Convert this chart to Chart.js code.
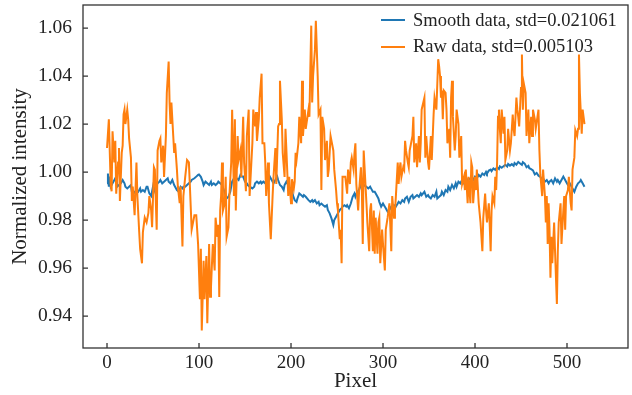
<!DOCTYPE html>
<html>
<head>
<meta charset="utf-8">
<script src="https://cdn.jsdelivr.net/npm/chart.js@4.4.1/dist/chart.umd.min.js"></script>
<style>
  body { margin: 0; background: #fff; }
  #wrap { position: relative; width: 632px; height: 395px; }
  #legend { position: absolute; left: 381px; top: 7px; font-family: 'Liberation Serif', 'Times New Roman', serif; font-size: 18.5px; color: #222; }
  #legend .row { display: flex; align-items: center; height: 26.5px; white-space: nowrap; }
  #legend .swatch { width: 24px; height: 2px; margin-right: 8px; }
</style>
</head>
<body>
<div id="wrap">
  <canvas id="chart" width="632" height="395"></canvas>
  <div id="legend"></div>
</div>
<script>
// Raw data: [pixel, normalized intensity]
const rawData = [
  [0,1.010],[2,1.022],[4,0.995],[5,0.992],[6,1.017],[8,1.004],[9,1.013],[10,0.991],[12,1.004],[13,1.010],
  [14,0.988],[16,1.008],[17,1.011],[18,1.024],[19,1.026],[20,1.020],[22,1.026],[23,1.022],[24,1.014],[26,1.006],
  [27,0.988],[28,0.994],[30,0.982],[32,1.004],[33,0.990],[35,0.975],[36,0.968],[38,0.962],[39,0.975],[41,0.981],
  [43,0.979],[45,0.983],[46,0.990],[48,0.984],[49,0.977],[51,1.002],[52,1.001],[54,0.976],[55,1.009],[57,1.013],
  [58,1.014],[59,1.004],[61,1.011],[62,0.998],[64,1.015],[65,1.033],[67,1.046],[68,1.029],[69,1.020],[70,1.029],
  [72,1.015],[73,1.008],[74,1.012],[76,1.001],[77,0.994],[79,0.987],[80,0.994],[82,0.969],[83,0.990],[85,0.998],
  [87,1.005],[89,1.004],[90,0.995],[92,0.976],[95,0.982],[97,0.982],[99,0.970],[101,0.947],[102,0.968],[103,0.934],
  [105,0.963],[106,0.947],[108,0.965],[109,0.937],[111,0.970],[112,0.948],[113,0.952],[115,0.970],[117,0.959],[118,0.981],
  [120,0.973],[121,0.978],[122,0.948],[123,0.984],[124,0.990],[125,1.004],[126,0.984],[128,0.987],[129,0.998],[130,0.973],
  [132,0.977],[133,0.990],[135,1.004],[136,1.026],[138,0.990],[139,1.022],[140,0.984],[142,1.015],[143,1.005],[145,1.009],
  [146,0.998],[148,1.023],[149,1.004],[151,0.992],[152,1.015],[154,1.026],[155,0.990],[158,1.012],[159,1.026],[161,1.019],
  [162,1.025],[163,1.013],[165,1.022],[166,1.031],[168,1.041],[169,1.012],[171,1.012],[172,1.004],[173,0.990],[175,1.004],
  [176,0.987],[178,0.972],[180,0.990],[181,0.998],[183,1.010],[184,0.995],[186,1.019],[187,1.020],[188,1.038],[190,1.022],
  [191,1.008],[193,0.998],[194,1.018],[195,1.009],[197,0.990],[198,0.998],[200,0.987],[201,0.997],[203,0.993],[204,0.996],
  [205,1.008],[206,1.005],[208,1.012],[209,1.023],[211,1.012],[212,1.038],[213,1.015],[215,1.026],[216,1.018],[219,1.026],
  [220,1.023],[221,1.043],[222,1.061],[223,1.029],[224,1.040],[226,1.051],[227,1.063],[229,1.040],[230,1.024],[232,1.026],
  [233,0.9925],[234,1.023],[236,1.018],[237,1.005],[239,1.013],[240,0.998],[241,1.001],[243,1.015],[244,1.013],[246,1.009],
  [247,1.001],[249,0.9925],[250,0.987],[251,0.984],[253,0.972],[254,0.976],[255,0.962],[256,0.998],[258,0.998],[259,0.998],
  [261,0.991],[262,1.001],[264,0.995],[265,1.004],[266,1.006],[268,1.001],[269,1.008],[270,1.012],[271,0.995],[273,0.984],
  [274,0.992],[276,1.002],[277,0.993],[278,0.970],[279,1.009],[282,0.987],[283,0.979],[285,0.967],[286,0.984],[287,0.987],
  [289,0.967],[290,0.984],[291,0.966],[292,0.981],[294,0.966],[295,0.979],[296,0.981],[297,0.962],[299,0.976],[300,0.970],
  [302,0.959],[303,0.976],[305,0.981],[306,0.984],[307,0.987],[309,0.967],[310,0.990],[312,0.981],[313,0.984],[314,0.990],
  [316,1.004],[317,0.995],[318,1.001],[319,1.004],[320,0.998],[322,1.002],[323,1.001],[324,1.013],[325,1.009],[327,1.004],
  [328,1.002],[329,1.009],[332,1.015],[333,1.023],[334,1.004],[336,1.012],[337,1.002],[339,1.015],[340,1.004],[341,1.012],
  [342,1.026],[345,1.031],[346,1.006],[347,1.015],[349,1.004],[350,1.001],[352,1.015],[353,1.005],[355,1.024],[356,1.031],
  [358,1.026],[360,1.047],[361,1.044],[362,1.040],[363,1.031],[364,1.034],[365,1.022],[366,1.034],[368,1.033],[369,1.026],
  [370,1.012],[372,1.018],[373,1.006],[374,1.031],[375,1.038],[376,1.023],[378,1.009],[379,1.015],[380,1.026],[382,1.020],
  [383,1.006],[385,1.015],[386,0.995],[388,0.998],[389,0.9925],[390,1.001],[392,0.987],[393,0.998],[395,0.987],[396,1.004],
  [397,1.002],[398,0.987],[400,0.998],[401,0.9925],[402,1.001],[404,0.987],[406,0.979],[408,0.967],[409,0.981],[411,0.991],
  [412,0.984],[413,0.979],[415,0.987],[416,0.978],[417,0.967],[418,0.984],[419,0.990],[421,0.987],[422,0.998],[423,0.9925],
  [424,1.004],[425,1.023],[426,1.026],[427,1.018],[428,1.012],[429,1.026],[431,1.016],[432,1.023],[433,1.005],[435,1.009],
  [436,1.018],[438,1.009],[439,1.012],[441,1.024],[442,1.018],[443,1.015],[445,1.031],[446,1.026],[447,1.023],[448,1.019],
  [450,1.035],[451,1.049],[452,1.026],[453,1.037],[455,1.033],[456,1.015],[458,1.026],[459,1.012],[461,1.023],[462,1.015],
  [463,1.026],[465,1.022],[466,1.018],[469,1.026],[470,1.009],[471,0.999],[473,0.990],[474,1.001],[476,0.990],[477,0.979],
  [478,0.990],[479,0.970],[480,0.987],[481,0.976],[482,0.956],[483,0.973],[484,0.962],[486,0.979],[487,0.967],[489,0.945],
  [490,0.967],[491,0.979],[493,0.987],[494,0.970],[496,0.984],[497,0.990],[498,0.976],[499,0.990],[501,0.9925],[502,0.998],
  [504,0.987],[505,0.984],[506,1.001],[508,1.006],[509,1.0175],[511,1.015],[512,1.018],[513,1.049],[514,1.033],[516,1.016],
  [517,1.026],[519,1.020]
];

// Smoothed data: [pixel, normalized intensity]
const smoothData = [
  [0,0.9953],[1,0.9994],[2,0.9939],[3,0.9981],[4,0.9939],[6,0.9953],[8,0.9967],[10,0.9981],[11,0.9939],[13,0.9946],
  [15,0.9953],[17,0.9967],[19,0.9953],[20,0.9939],[22,0.9932],[24,0.9939],[26,0.9946],[27,0.9918],[29,0.9911],[32,0.9925],
  [34,0.9918],[36,0.9932],[37,0.9918],[39,0.9925],[41,0.9918],[43,0.9939],[44,0.9939],[46,0.9911],[48,0.9900],[50,0.9939],
  [51,0.9918],[53,0.9939],[55,0.9953],[57,0.9960],[58,0.9967],[60,0.9953],[62,0.9960],[64,0.9967],[66,0.9974],[67,0.9960],
  [69,0.9953],[71,0.9967],[73,0.9946],[74,0.9939],[76,0.9925],[78,0.9918],[80,0.9939],[82,0.9932],[83,0.9939],[85,0.9939],
  [87,0.9946],[89,0.9953],[91,0.9960],[92,0.9967],[95,0.9974],[97,0.9981],[99,0.9988],[100,0.9990],[102,0.9980],[104,0.9960],
  [105,0.9946],[107,0.9960],[109,0.9953],[111,0.9946],[113,0.9960],[114,0.9946],[116,0.9953],[118,0.9946],[120,0.9953],[121,0.9960],
  [123,0.9953],[125,0.9946],[127,0.9925],[129,0.9904],[130,0.9890],[132,0.9897],[134,0.9918],[136,0.9960],[138,0.9974],[139,0.9960],
  [141,0.9974],[143,0.9967],[145,0.9988],[146,0.9981],[148,0.9981],[150,0.9960],[152,0.9953],[153,0.9946],[155,0.9939],[158,0.9932],
  [160,0.9939],[161,0.9953],[163,0.9960],[165,0.9953],[167,0.9960],[168,0.9953],[170,0.9960],[172,0.9953],[174,0.9974],[176,0.9967],
  [177,0.9981],[179,0.9967],[181,0.9953],[183,0.9967],[185,0.9981],[186,0.9967],[188,0.9946],[190,0.9939],[192,0.9925],[193,0.9946],
  [195,0.9960],[197,0.9946],[199,0.9918],[201,0.9925],[202,0.9904],[204,0.9883],[206,0.9876],[207,0.9890],[209,0.9911],[211,0.9904],
  [213,0.9897],[214,0.9904],[216,0.9897],[219,0.9883],[221,0.9876],[223,0.9883],[224,0.9876],[226,0.9883],[228,0.9869],[230,0.9876],
  [231,0.9862],[233,0.9869],[235,0.9862],[237,0.9856],[239,0.9862],[240,0.9842],[242,0.9828],[244,0.9807],[246,0.9780],[247,0.9800],
  [249,0.9814],[251,0.9828],[253,0.9842],[255,0.9849],[256,0.9856],[258,0.9862],[260,0.9856],[261,0.9862],[263,0.9849],[265,0.9869],
  [267,0.9897],[269,0.9911],[270,0.9897],[272,0.9918],[274,0.9925],[276,0.9953],[277,0.9932],[279,0.9946],[282,0.9939],[284,0.9932],
  [286,0.9939],[287,0.9932],[289,0.9918],[291,0.9918],[293,0.9904],[295,0.9890],[296,0.9876],[298,0.9856],[300,0.9869],[302,0.9856],
  [303,0.9849],[305,0.9835],[307,0.9842],[309,0.9856],[310,0.9856],[312,0.9862],[314,0.9856],[316,0.9869],[317,0.9876],[319,0.9869],
  [321,0.9883],[323,0.9876],[324,0.9890],[326,0.9897],[328,0.9876],[330,0.9897],[332,0.9904],[333,0.9890],[335,0.9897],[337,0.9904],
  [339,0.9897],[341,0.9911],[342,0.9904],[345,0.9918],[347,0.9897],[349,0.9904],[350,0.9897],[352,0.9890],[354,0.9904],[356,0.9897],
  [358,0.9918],[359,0.9890],[361,0.9897],[363,0.9904],[364,0.9918],[366,0.9904],[368,0.9925],[370,0.9918],[371,0.9939],[373,0.9925],
  [375,0.9946],[377,0.9932],[379,0.9953],[380,0.9939],[382,0.9960],[384,0.9953],[386,0.9967],[388,0.9953],[389,0.9974],[391,0.9960],
  [393,0.9974],[395,0.9967],[396,0.9981],[398,0.9967],[400,0.9981],[402,0.9974],[404,0.9988],[406,0.9981],[408,0.9994],[410,0.9988],
  [412,1.0001],[413,0.9994],[415,1.0006],[417,1.0010],[418,1.0004],[420,1.0015],[422,1.0009],[424,1.0020],[426,1.0013],[427,1.0024],
  [429,1.0018],[431,1.0024],[433,1.0030],[435,1.0023],[436,1.0034],[438,1.0027],[440,1.0033],[442,1.0026],[443,1.0038],[445,1.0031],
  [447,1.0042],[449,1.0036],[451,1.0030],[452,1.0041],[454,1.0035],[456,1.0020],[458,1.0026],[459,1.0016],[461,1.0012],[463,1.0007],
  [465,0.9990],[467,0.9996],[469,0.9985],[471,0.9980],[473,0.9967],[474,0.9974],[476,0.9960],[478,0.9967],[480,0.9953],[481,0.9960],
  [483,0.9967],[485,0.9953],[487,0.9974],[489,0.9960],[490,0.9967],[492,0.9953],[494,0.9967],[496,0.9981],[498,0.9967],[499,0.9960],
  [501,0.9946],[503,0.9953],[505,0.9939],[506,0.9932],[508,0.9918],[510,0.9939],[512,0.9953],[514,0.9960],[515,0.9967],[517,0.9953],
  [519,0.9939]
];

const xTicks = [0, 100, 200, 300, 400, 500];
const yTicks = [0.94, 0.96, 0.98, 1.00, 1.02, 1.04, 1.06];

const serif = "'Liberation Serif', 'Times New Roman', serif";
const textColor = '#222';

// рамка вокруг области графика и засечки внутрь
const frameTicks = {
  id: 'frameTicks',
  afterDraw(chart) {
    const { ctx, chartArea: a, scales: { x, y } } = chart;
    ctx.save();
    ctx.strokeStyle = '#333';
    ctx.lineWidth = 1.3;
    ctx.strokeRect(a.left, a.top, a.right - a.left, a.bottom - a.top);
    ctx.beginPath();
    x.ticks.forEach(t => {
      const px = x.getPixelForValue(t.value);
      ctx.moveTo(px, a.bottom);
      ctx.lineTo(px, a.bottom - 5);
    });
    y.ticks.forEach(t => {
      const py = y.getPixelForValue(t.value);
      ctx.moveTo(a.left, py);
      ctx.lineTo(a.left + 5, py);
    });
    ctx.stroke();
    ctx.restore();
  }
};

// легенда в HTML
const htmlLegend = {
  id: 'htmlLegend',
  afterUpdate(chart) {
    const box = document.getElementById('legend');
    box.innerHTML = '';
    chart.data.datasets.forEach(ds => {
      const row = document.createElement('div');
      row.className = 'row';
      const sw = document.createElement('span');
      sw.className = 'swatch';
      sw.style.background = ds.borderColor;
      const label = document.createElement('span');
      label.textContent = ds.label;
      row.appendChild(sw);
      row.appendChild(label);
      box.appendChild(row);
    });
  }
};

const ctx = document.getElementById('chart').getContext('2d');
const chart = new Chart(ctx, {
  type: 'line',
  data: {
    datasets: [
      {
        label: 'Smooth data, std=0.021061',
        data: smoothData.map(([x, y]) => ({ x, y })),
        borderColor: '#1f77b4',
        borderWidth: 2,
        order: 1
      },
      {
        label: 'Raw data, std=0.005103',
        data: rawData.map(([x, y]) => ({ x, y })),
        borderColor: '#ff7f0e',
        borderWidth: 2,
        order: 0
      }
    ]
  },
  options: {
    responsive: false,
    animation: false,
    layout: { padding: { top: 5, right: 4, left: 0, bottom: 0 } },
    elements: { point: { radius: 0 }, line: { tension: 0 } },
    plugins: { legend: { display: false }, tooltip: { enabled: false } },
    scales: {
      x: {
        type: 'linear',
        min: -26.1,
        max: 566.3,
        afterFit: s => { s.height = 47; s.paddingLeft = 0; s.paddingRight = 0; },
        afterBuildTicks: s => { s.ticks = xTicks.map(v => ({ value: v })); },
        grid: { display: false, drawTicks: false, tickLength: 0 },
        border: { display: false },
        ticks: { padding: 4, color: textColor, font: { family: serif, size: 19 }, maxRotation: 0, autoSkip: false },
        title: { display: true, text: 'Pixel', color: textColor, font: { family: serif, size: 21 }, padding: { top: 0, bottom: 1 } }
      },
      y: {
        type: 'linear',
        min: 0.9267,
        max: 1.0696,
        afterFit: s => { s.width = 83; s.paddingTop = 0; s.paddingBottom = 0; },
        afterBuildTicks: s => { s.ticks = yTicks.map(v => ({ value: v })); },
        grid: { display: false, drawTicks: false, tickLength: 0 },
        border: { display: false },
        ticks: { padding: 11, color: textColor, font: { family: serif, size: 19.5 }, callback: v => v.toFixed(2) },
        title: { display: true, text: 'Normalized intensity', color: textColor, font: { family: serif, size: 21 }, padding: { top: 8, bottom: 0 } }
      }
    }
  },
  plugins: [frameTicks, htmlLegend]
});
</script>
</body>
</html>
